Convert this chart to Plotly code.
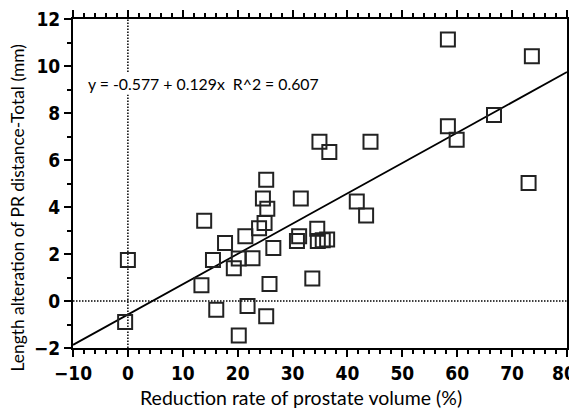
import plotly.graph_objects as go

x_vals = [-0.5, 0.0, 13.4, 13.9, 15.5, 16.1, 17.7, 19.3, 20.2, 20.2, 21.4, 21.8, 22.7,
          23.9, 24.6, 24.9, 25.2, 25.2, 25.4, 25.8, 26.5, 30.8, 31.2, 31.5, 33.6,
          34.5, 34.6, 35.5, 36.3, 34.9, 36.7, 41.7, 43.4, 44.2, 58.3, 58.3, 59.9,
          66.7, 73.0, 73.6]
y_vals = [-0.89, 1.74, 0.67, 3.41, 1.74, -0.37, 2.47, 1.39, 1.81, -1.47, 2.76, -0.21, 1.82,
          3.10, 4.36, 3.32, 5.16, -0.65, 3.93, 0.72, 2.26, 2.55, 2.76, 4.36, 0.96,
          3.07, 2.55, 2.58, 2.62, 6.78, 6.34, 4.23, 3.64, 6.78, 11.13, 7.44, 6.86,
          7.92, 5.02, 10.42]

x_tick_vals = [-10, 0, 10, 20, 30, 40, 50, 60, 70, 80]
x_tick_text = ["\u221210", "0", "10", "20", "30", "40", "50", "60", "70", "80"]
y_tick_vals = [-2, 0, 2, 4, 6, 8, 10, 12]
y_tick_text = ["\u22122", "0", "2", "4", "6", "8", "10", "12"]

intercept = -0.577
slope = 0.129
line_x = [-10, 80]
line_y = [intercept + slope * v for v in line_x]
eq_text = "y = -0.577 + 0.129x  R^2 = 0.607"
x_title = "Reduction rate of prostate volume (%)"
y_title = "Length alteration of PR distance-Total (mm)"

tickfont = dict(family="Liberation Sans Narrow, DejaVu Sans Condensed, Liberation Sans",
                size=19, color="black", weight="bold")

fig = go.Figure()
fig.add_shape(type="line", x0=0, x1=0, y0=-2, y1=12, xref="x", yref="y",
              line=dict(color="black", width=1.5, dash="1.5px,1.5px"), layer="below")
fig.add_shape(type="line", x0=-10, x1=80, y0=0, y1=0, xref="x", yref="y",
              line=dict(color="black", width=1.5, dash="1.5px,1.5px"), layer="below")
fig.add_trace(go.Scatter(x=line_x, y=line_y, mode="lines",
                         line=dict(color="black", width=1.8), showlegend=False))
fig.add_trace(go.Scatter(x=x_vals, y=y_vals, mode="markers", showlegend=False,
                         marker=dict(symbol="square-open", size=14,
                                     color="#222222", line=dict(width=2, color="#222222"))))
fig.add_annotation(x=-7.6, y=9.25, xref="x", yref="y", text=eq_text, showarrow=False,
                   xanchor="left", yanchor="middle", bgcolor="white",
                   font=dict(family="Lato", size=15.8, color="black"))
fig.add_annotation(x=0, xref="paper", xshift=-55, y=0.424, yref="paper", text=y_title,
                   textangle=-90, showarrow=False, xanchor="center", yanchor="middle",
                   font=dict(family="Lato", size=17.4, color="black"))
fig.add_annotation(x=0.462, xref="paper", y=0, yshift=-49, yref="paper", text=x_title,
                   showarrow=False, xanchor="center", yanchor="middle",
                   font=dict(family="Lato", size=19.5, color="black"))
# last x tick label, kept inside the window edge
fig.add_annotation(x=x_tick_vals[-1], xref="x", y=0, yref="paper", yshift=-25,
                   xshift=10, text=x_tick_text[-1], showarrow=False,
                   xanchor="right", yanchor="middle", borderpad=0, font=tickfont)

axis_common = dict(showgrid=False, zeroline=False, showline=True, linecolor="black", linewidth=2,
                   mirror="ticks", ticks="outside", ticklen=7, tickwidth=2, tickcolor="black",
                   tickfont=tickfont, automargin=False, ticklabeloverflow="allow")

fig.update_xaxes(range=[-10, 80], tickvals=x_tick_vals,
                 ticktext=x_tick_text[:-1] + [""],
                 minor=dict(dtick=2, ticks="outside", ticklen=4, tickwidth=1.5, tickcolor="black"),
                 **axis_common)
fig.update_yaxes(range=[-2, 12], tickvals=y_tick_vals, ticktext=y_tick_text,
                 minor=dict(dtick=1, ticks="outside", ticklen=4, tickwidth=1.5, tickcolor="black"),
                 **axis_common)

# page body has an 8px default margin, so the figure is sized to fit the window
fig.update_layout(width=569, height=407, margin=dict(l=65, r=10, t=11, b=67),
                  plot_bgcolor="white", paper_bgcolor="white")
fig.write_html("out.html")
